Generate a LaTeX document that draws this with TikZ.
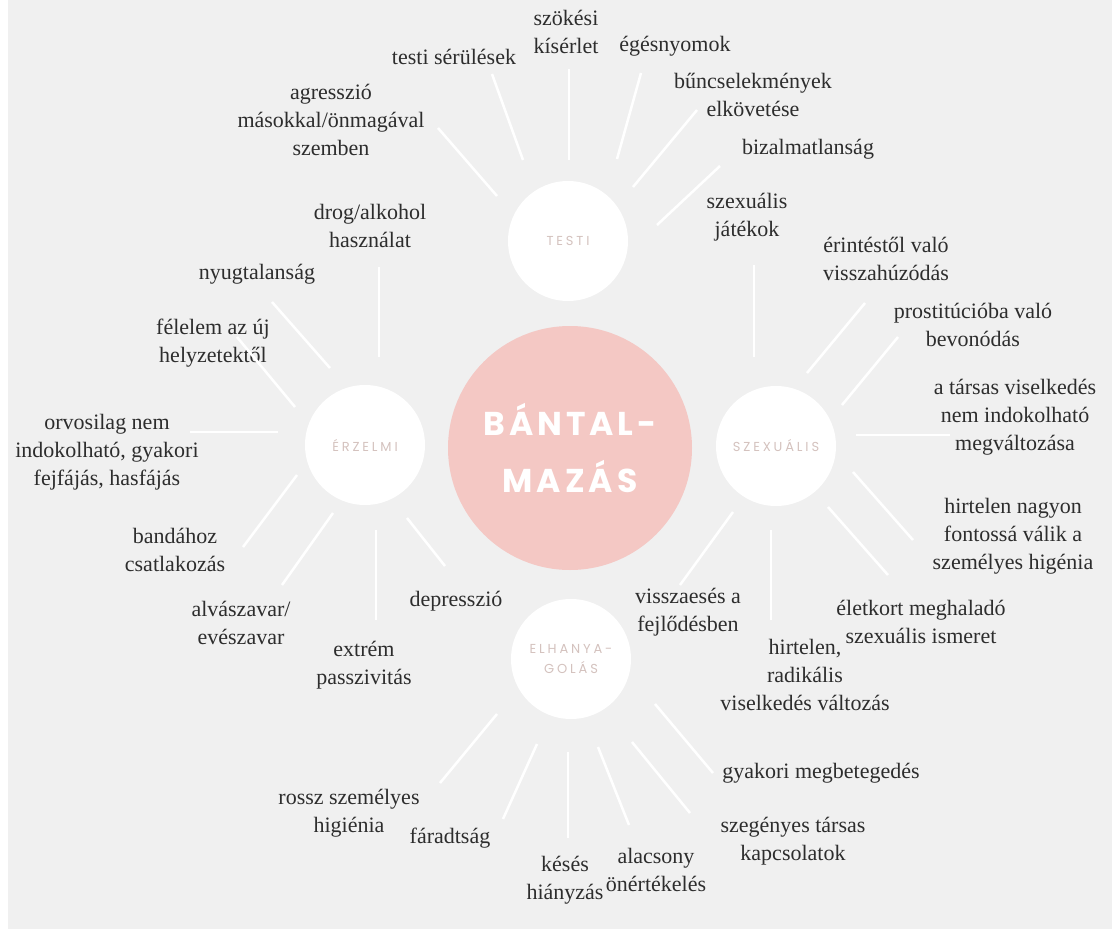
\documentclass[tikz,border=0pt]{standalone}
\usepackage{fontspec}
\setmainfont{Liberation Serif}
\newfontfamily\catfont[LetterSpace=22]{Poppins}
\newfontfamily\bigfont[LetterSpace=12]{Poppins}
\usepackage{tikz}
\usetikzlibrary{positioning}
\definecolor{bgGray}{RGB}{240,240,240}
\definecolor{blobPink}{RGB}{244,200,196}
\definecolor{catText}{RGB}{212,194,190}
\definecolor{lblText}{RGB}{45,45,45}

\begin{document}
\begin{tikzpicture}[x=1pt,y=-1pt]
	%defines
	\tikzstyle{mainblob} = [circle, fill=blobPink, minimum size=244pt, inner sep=0pt, text=white, align=center, font=\bigfont\bfseries\fontsize{33}{57}\selectfont]
	\tikzstyle{catcircle} = [circle, fill=white, minimum size=120pt, inner sep=0pt, text=catText, align=center, font=\catfont\fontsize{13}{20}\selectfont]
	\tikzstyle{lbl} = [inner sep=0pt, align=center, text=lblText, font=\fontsize{22}{28}\selectfont]
	\tikzstyle{spoke} = [draw=white, line width=2.5pt]
	%background
	\fill[bgGray] (0,0) rectangle (1112,929);
	\fill[white] (0,0) rectangle (8,929);
	\useasboundingbox (0,0) rectangle (1112,929);
	%circles
	\node (bantalmazas) [mainblob] at (570,448) {BÁNTAL-\\MAZÁS};
	\node (testi) [catcircle] at (568,241) {TESTI};
	\node (erzelmi) [catcircle] at (365,445) {ÉRZELMI};
	\node (szexualis) [catcircle] at (776,446) {SZEXUÁLIS};
	\node (elhanyagolas) [catcircle] at (571,659) {ELHANYA-\\GOLÁS};
	%testi
	\node (lblAgresszio) [lbl] at (331,120) {agresszió\\másokkal/önmagával\\szemben};
	\node (lblSerules) [lbl] at (454,57) {testi sérülések};
	\node (lblSzokesi) [lbl] at (566,32) {szökési\\kísérlet};
	\node (lblEges) [lbl] at (675,46) {égésnyomok};
	\node (lblBun) [lbl] at (753,95) {bűncselekmények\\elkövetése};
	\node (lblBizalom) [lbl] at (808,149) {bizalmatlanság};
	\draw [spoke, shift={(testi)}] (-130,-113) -- (-71,-45);
	\draw [spoke, shift={(testi)}] (-76,-167) -- (-45,-81);
	\draw [spoke, shift={(testi)}] (1,-172) -- (1,-81);
	\draw [spoke, shift={(testi)}] (73,-168) -- (49,-82);
	\draw [spoke, shift={(testi)}] (129,-131) -- (65,-54);
	\draw [spoke, shift={(testi)}] (152,-75) -- (89,-16);
	%erzelmi
	\node (lblDrog) [lbl] at (370,226) {drog/alkohol\\használat};
	\node (lblNyugtalan) [lbl] at (257,274) {nyugtalanság};
	\node (lblFelelem) [lbl] at (213,343) {félelem az új\\helyzetektől};
	\node (lblOrvos) [lbl] at (107,452) {orvosilag nem\\indokolható, gyakori\\fejfájás, hasfájás};
	\node (lblBanda) [lbl] at (175,550) {bandához\\csatlakozás};
	\node (lblAlvas) [lbl] at (241,623) {alvászavar/\\evészavar};
	\node (lblExtrem) [lbl] at (364,665) {extrém\\passzivitás};
	\node (lblDepresszio) [lbl] at (456,601) {depresszió};
	\draw [spoke, shift={(erzelmi)}] (14,-178) -- (14,-88);
	\draw [spoke, shift={(erzelmi)}] (-93,-143) -- (-35,-77);
	\draw [spoke, shift={(erzelmi)}] (-128,-108) -- (-70,-38);
	\draw [spoke, shift={(erzelmi)}] (-175,-13) -- (-87,-13);
	\draw [spoke, shift={(erzelmi)}] (-122,102) -- (-68,30);
	\draw [spoke, shift={(erzelmi)}] (-83,140) -- (-32,68);
	\draw [spoke, shift={(erzelmi)}] (11,175) -- (11,85);
	\draw [spoke, shift={(erzelmi)}] (80,121) -- (42,73);
	%szexualis
	\node (lblJatek) [lbl] at (747,217) {szexuális\\játékok};
	\node (lblErintes) [lbl] at (886,259) {érintéstől való\\visszahúzódás};
	\node (lblProstitucio) [lbl] at (973,325) {prostitúcióba való\\bevonódás};
	\node (lblTarsas) [lbl] at (1015,417) {a társas viselkedés\\nem indokolható\\megváltozása};
	\node (lblHigenia) [lbl] at (1013,536) {hirtelen nagyon\\fontossá válik a\\személyes higénia};
	\node (lblEletkor) [lbl] at (921,622) {életkort meghaladó\\szexuális ismeret};
	\node (lblRadikalis) [lbl] at (805,675) {hirtelen,\\radikális\\viselkedés változás};
	\node (lblVisszaeses) [lbl] at (688,612) {visszaesés a\\fejlődésben};
	\draw [spoke, shift={(szexualis)}] (-22,-181) -- (-22,-89);
	\draw [spoke, shift={(szexualis)}] (89,-143) -- (31,-73);
	\draw [spoke, shift={(szexualis)}] (122,-109) -- (66,-41);
	\draw [spoke, shift={(szexualis)}] (174,-11) -- (80,-11);
	\draw [spoke, shift={(szexualis)}] (137,94) -- (77,26);
	\draw [spoke, shift={(szexualis)}] (112,129) -- (52,61);
	\draw [spoke, shift={(szexualis)}] (-5,174) -- (-5,84);
	\draw [spoke, shift={(szexualis)}] (-96,139) -- (-43,66);
	%elhanyagolas
	\node (lblRossz) [lbl] at (349,813) {rossz személyes\\higiénia};
	\node (lblFarad) [lbl] at (450,838) {fáradtság};
	\node (lblKeses) [lbl] at (565,880) {késés\\hiányzás};
	\node (lblAlacsony) [lbl] at (656,870) {alacsony\\önértékelés};
	\node (lblSzegeny) [lbl] at (793,841) {szegényes társas\\kapcsolatok};
	\node (lblGyakori) [lbl] at (821,773) {gyakori megbetegedés};
	\draw [spoke, shift={(elhanyagolas)}] (-131,124) -- (-74,55);
	\draw [spoke, shift={(elhanyagolas)}] (-68,160) -- (-34,85);
	\draw [spoke, shift={(elhanyagolas)}] (-3,179) -- (-3,93);
	\draw [spoke, shift={(elhanyagolas)}] (58,166) -- (27,88);
	\draw [spoke, shift={(elhanyagolas)}] (119,154) -- (61,83);
	\draw [spoke, shift={(elhanyagolas)}] (142,114) -- (84,45);
\end{tikzpicture}
\end{document}
